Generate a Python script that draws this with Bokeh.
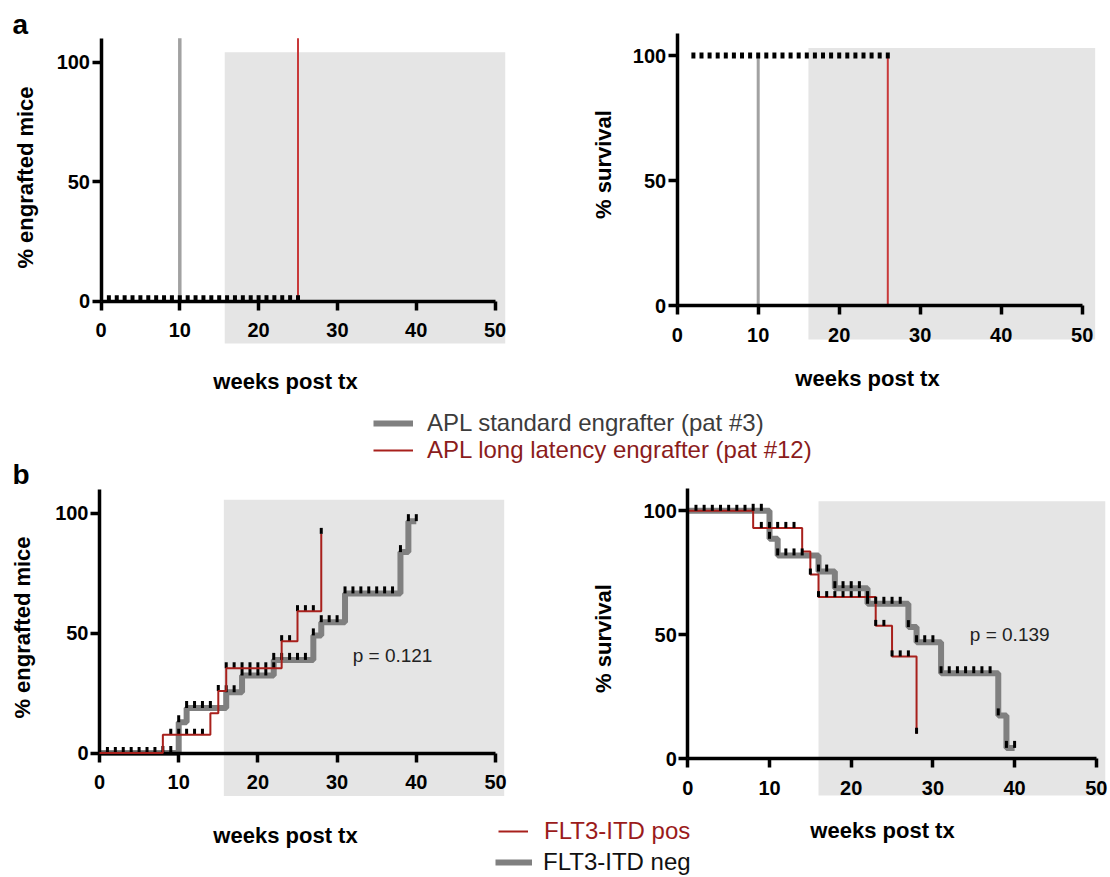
import numpy as np
from bokeh.plotting import figure
from bokeh.models import Range1d, LinearAxis, FixedTicker, Label, Legend, LegendItem
from bokeh.embed import file_html
from bokeh.resources import INLINE

# ---------------- data ----------------
week_ticks = [0, 10, 20, 30, 40, 50]
pct_ticks = [0, 50, 100]
x_title = "weeks post tx"
y_titles = ["% engrafted mice", "% survival"]

# panel a : APL patients
apl_labels = ["APL standard engrafter (pat #3)", "APL long latency engrafter (pat #12)"]
a_engraft_week = [10, 25]          # standard, long latency
a_engraft_top = [110, 110]
a_engraft_base = [0, 0]
a_engraft_censor = [1, 2, 3, 4, 5, 6, 7, 8, 9, 10, 11, 12, 13, 14, 15, 16, 17, 18, 19, 20, 21, 22, 23, 24, 25]
a_surv_week = [10, 26]
a_surv_top = [100, 101]
a_surv_base = [0, 0]
a_surv_censor = [2, 3, 4, 5, 6, 7, 8, 9, 10, 11, 12, 13, 14, 15, 16, 17, 18, 19, 20, 21, 22, 23, 24, 25, 26]

# panel b : FLT3-ITD
flt3_labels = ["FLT3-ITD pos", "FLT3-ITD neg"]
neg_weeks = [0, 10, 11, 16, 18, 22, 27, 28, 31, 38, 39, 40]
neg_engrafted = [0, 12.8, 18.8, 25.3, 32.3, 38.8, 49.0, 54.5, 66.5, 83.7, 96.6, 96.6]
neg_survival = [100, 88.7, 82.0, 75.5, 68.8, 62.5, 53.1, 47.0, 34.5, 17.5, 4.4, 4.4]
pos_weeks = [0, 8, 14, 15, 16, 23, 25, 28]
pos_engrafted = [0, 7.6, 16.6, 25.8, 35.3, 46.6, 59.1, 91.3]
pos_survival = [100, 93.1, 83.6, 74.3, 65.2, 53.6, 41.3, 10.1]
neg_censor = [8, 9, 10, 11, 12, 13, 14, 16, 17, 18, 19, 20, 21, 22, 23, 24, 25, 26,
              27, 28, 29, 30, 31, 32, 33, 34, 35, 36, 37, 38, 39, 40]
pos_censor = [1, 2, 3, 4, 5, 6, 7, 9, 10, 11, 12, 13, 15, 16, 17, 18, 19, 20, 21, 22,
              23, 24, 25, 26, 27, 28]
p_values = ["p = 0.121", "p = 0.139"]

# shaded window (weeks, %) per panel: [left, right, bottom, top]
shade_aL = [15.7, 51.3, -17.7, 104.2]
shade_aR = [16.2, 51.6, -13.6, 103.0]
shade_bL = [15.7, 51.1, -17.9, 105.5]
shade_bR = [16.0, 51.1, -14.8, 103.9]

# ---------------- styling ----------------
FONT = "Liberation Sans"
GREY_BG = "#e5e5e5"
A_GREY = "#a2a2a2"
A_RED = "#c8393a"
B_GREY = "#808080"
B_RED = "#a8201c"

W, H = 1110, 877
p = figure(width=W, height=H, x_range=Range1d(0, W), y_range=Range1d(H, 0),
           x_axis_type=None, y_axis_type=None, toolbar_location=None,
           output_backend="svg", min_border=0, outline_line_color=None)
p.background_fill_color = "white"

# panel geometry: pixel of origin and pixels per unit
panels = {
    "aL": (100.5, 7.88, 300.7, 2.39),
    "aR": (676.7, 8.10, 305.0, 2.50),
    "bL": (99.0, 7.92, 752.5, 2.40),
    "bR": (687.3, 8.17, 758.3, 2.48),
}
xr, yr = {}, {}
for k, (X0, kx, Y0, ky) in panels.items():
    xr[k + "x"] = Range1d((0 - X0) / kx, (W - X0) / kx)
    yr[k + "y"] = Range1d((Y0 - H) / ky, (Y0 - 0) / ky)
p.extra_x_ranges = xr
p.extra_y_ranges = yr


def R(k):
    return dict(x_range_name=k + "x", y_range_name=k + "y")


def add_axes(k, ytop, xtitle_pos, ytitle, ytitle_pos):
    common = dict(axis_line_width=3.5, axis_line_color="black",
                  major_tick_line_width=3.5, major_tick_line_color="black",
                  major_tick_out=9, major_tick_in=0,
                  minor_tick_line_color=None,
                  major_label_text_font=FONT, major_label_text_font_style="bold",
                  major_label_text_font_size="20px", major_label_text_color="black")
    xa = LinearAxis(fixed_location=0, bounds=(0, 50), ticker=FixedTicker(ticks=week_ticks),
                    major_label_standoff=13, **R(k), **common)
    p.add_layout(xa, "below")
    ya = LinearAxis(fixed_location=0, bounds=(0, ytop), ticker=FixedTicker(ticks=pct_ticks),
                    major_label_standoff=2, **R(k), **common)
    p.add_layout(ya, "left")
    # axis titles placed where the reference has them
    p.add_layout(Label(x=xtitle_pos[0], y=H - xtitle_pos[1], x_units="screen", y_units="screen",
                       text=x_title, text_align="center", text_baseline="middle",
                       text_color="black", text_font=FONT, text_font_style="bold",
                       text_font_size="22px"))
    p.add_layout(Label(x=ytitle_pos[0], y=H - ytitle_pos[1], x_units="screen", y_units="screen",
                       text=ytitle, text_align="center", text_baseline="middle", angle=np.pi / 2,
                       text_color="black", text_font=FONT, text_font_style="bold",
                       text_font_size="22px"))


def shade(k, s):
    p.quad(left=[s[0]], right=[s[1]], bottom=[s[2]], top=[s[3]],
           fill_color=GREY_BG, line_color=None, **R(k))


def step_at(xs, ys, cx):
    idx = np.searchsorted(np.array(xs), np.array(cx), side="right") - 1
    return list(np.array(ys)[idx])


# ---- panel a left : engraftment
shade("aL", shade_aL)
p.segment(x0=[a_engraft_week[0]], x1=[a_engraft_week[0]], y0=[a_engraft_base[0]], y1=[a_engraft_top[0]],
          line_color=A_GREY, line_width=3.5, **R("aL"))
p.segment(x0=[a_engraft_week[1]], x1=[a_engraft_week[1]], y0=[a_engraft_base[1]], y1=[a_engraft_top[1]],
          line_color=A_RED, line_width=2, **R("aL"))
p.ray(x=a_engraft_censor, y=[0] * len(a_engraft_censor), length=6, length_units="screen",
      angle=np.pi / 2, line_color="black", line_width=4, **R("aL"))
add_axes("aL", 110, (285, 381), y_titles[0], (25, 177))

# ---- panel a right : survival
shade("aR", shade_aR)
p.segment(x0=[a_surv_week[0]], x1=[a_surv_week[0]], y0=[a_surv_base[0]], y1=[a_surv_top[0]],
          line_color=A_GREY, line_width=3, **R("aR"))
p.segment(x0=[a_surv_week[1]], x1=[a_surv_week[1]], y0=[a_surv_base[1]], y1=[a_surv_top[1]],
          line_color=A_RED, line_width=2, **R("aR"))
p.rect(x=a_surv_censor, y=[100] * len(a_surv_censor), width=4, height=6,
       width_units="screen", height_units="screen", fill_color="black", line_color=None, **R("aR"))
add_axes("aR", 109, (867, 378), y_titles[1], (603, 164))

# ---- panel b left : engraftment
shade("bL", shade_bL)
negL = p.step(x=neg_weeks, y=neg_engrafted, mode="after", line_color=B_GREY, line_width=6, **R("bL"))
posL = p.step(x=pos_weeks, y=pos_engrafted, mode="after", line_color=B_RED, line_width=2,
              level="overlay", **R("bL"))
p.ray(x=neg_censor, y=step_at(neg_weeks, neg_engrafted, neg_censor), length=7, length_units="screen",
      angle=np.pi / 2, line_color="black", line_width=3, **R("bL"))
p.ray(x=pos_censor, y=step_at(pos_weeks, pos_engrafted, pos_censor), length=6, length_units="screen",
      angle=np.pi / 2, line_color="black", line_width=3, **R("bL"))
add_axes("bL", 110, (285, 835), y_titles[0], (22, 627))
p.add_layout(Label(x=37, y=40.6, text=p_values[0], text_align="center", text_baseline="middle",
                   text_font=FONT, text_font_size="19px", text_color="#222222", **R("bL")))

# ---- panel b right : survival
shade("bR", shade_bR)
p.step(x=neg_weeks, y=neg_survival, mode="after", line_color=B_GREY, line_width=6, **R("bR"))
p.step(x=pos_weeks, y=pos_survival, mode="after", line_color=B_RED, line_width=2, **R("bR"))
p.ray(x=neg_censor, y=step_at(neg_weeks, neg_survival, neg_censor), length=7, length_units="screen",
      angle=np.pi / 2, line_color="black", line_width=3, **R("bR"))
p.ray(x=pos_censor, y=step_at(pos_weeks, pos_survival, pos_censor), length=6, length_units="screen",
      angle=np.pi / 2, line_color="black", line_width=3, **R("bR"))
add_axes("bR", 109, (882, 830), y_titles[1], (603, 638))
p.add_layout(Label(x=39.4, y=50.1, text=p_values[1], text_align="center", text_baseline="middle",
                   text_font=FONT, text_font_size="19px", text_color="#222222", **R("bR")))

# ---- panel letters
p.add_layout(Label(x=12, y=H - 24, x_units="screen", y_units="screen", text="a", text_font=FONT,
                   text_color="black", text_font_style="bold", text_font_size="28px",
                   text_baseline="alphabetic"))
p.add_layout(Label(x=12, y=H - 474, x_units="screen", y_units="screen", text="b", text_font=FONT,
                   text_color="black", text_font_style="bold", text_font_size="28px",
                   text_baseline="alphabetic"))

# ---- legends (legend-only renderers for panel a keys, one NaN point so nothing is drawn)
dummy_grey = p.line(x=np.array([np.nan]), y=np.array([np.nan]), line_color=B_GREY, line_width=6)
dummy_red = p.line(x=np.array([np.nan]), y=np.array([np.nan]), line_color=B_RED, line_width=2)


def legend(label, rend, loc, gw, standoff, color):
    lg = Legend(items=[LegendItem(label=label, renderers=[rend])], location=loc,
                padding=0, margin=0, spacing=0, glyph_width=gw, glyph_height=20,
                label_standoff=standoff, label_text_font=FONT, label_text_font_size="24px",
                label_text_color=color, border_line_color=None, background_fill_alpha=0)
    p.add_layout(lg, "center")


legend(apl_labels[0], dummy_grey, (373, 440), 40, 14, "#3c3c3c")
legend(apl_labels[1], dummy_red, (373, 413), 40, 14, "#8b1c1c")
legend(flt3_labels[0], posL, (498, 32), 30, 16, "#9b1b1b")
legend(flt3_labels[1], negL, (495, 1), 37, 11, "#111111")

open("out.html", "w").write(file_html(p, INLINE))
